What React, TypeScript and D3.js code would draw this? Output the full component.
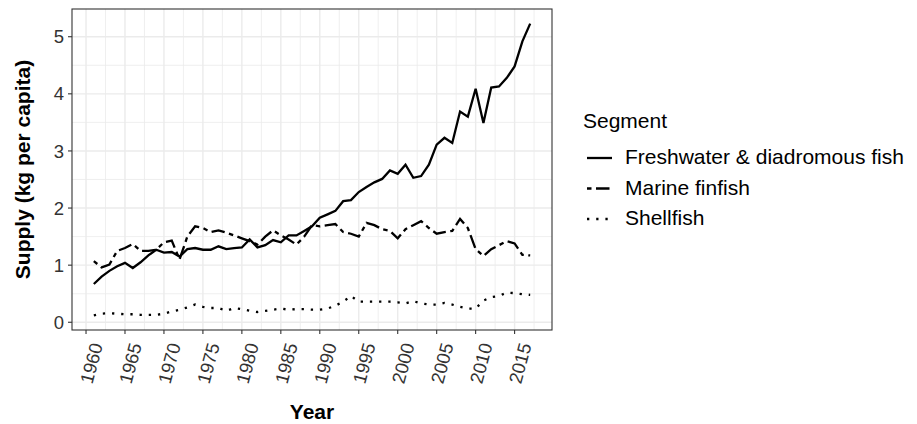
import React from "react";
import * as d3 from "d3";

// Year on the x axis, 1961 to 2017
const years = [
  1961, 1962, 1963, 1964, 1965, 1966, 1967, 1968, 1969, 1970,
  1971, 1972, 1973, 1974, 1975, 1976, 1977, 1978, 1979, 1980,
  1981, 1982, 1983, 1984, 1985, 1986, 1987, 1988, 1989, 1990,
  1991, 1992, 1993, 1994, 1995, 1996, 1997, 1998, 1999, 2000,
  2001, 2002, 2003, 2004, 2005, 2006, 2007, 2008, 2009, 2010,
  2011, 2012, 2013, 2014, 2015, 2016, 2017,
];

// Supply, kg per capita
const freshwater = [
  0.67, 0.8, 0.9, 0.98, 1.04, 0.95, 1.05, 1.17, 1.27, 1.22,
  1.23, 1.15, 1.28, 1.3, 1.27, 1.27, 1.33, 1.28, 1.3, 1.31,
  1.45, 1.31, 1.35, 1.44, 1.4, 1.52, 1.52, 1.6, 1.68, 1.83,
  1.89, 1.95, 2.12, 2.14, 2.28, 2.37, 2.45, 2.51, 2.66, 2.6,
  2.76, 2.53, 2.56, 2.76, 3.11, 3.23, 3.14, 3.69, 3.6, 4.09,
  3.49, 4.11, 4.13, 4.28, 4.48, 4.92, 5.23,
];
const marine = [
  1.07, 0.96, 1.01, 1.25, 1.3, 1.37, 1.25, 1.25, 1.27, 1.4,
  1.43, 1.1, 1.5, 1.68, 1.65, 1.58, 1.61, 1.57, 1.52, 1.47,
  1.42, 1.36, 1.5, 1.61, 1.52, 1.45, 1.36, 1.5, 1.7, 1.68,
  1.7, 1.72, 1.58, 1.55, 1.5, 1.74, 1.7, 1.63, 1.6, 1.47,
  1.63, 1.7, 1.77, 1.65, 1.55, 1.58, 1.6, 1.81, 1.65, 1.28,
  1.16, 1.28, 1.35, 1.42, 1.38, 1.18, 1.17,
];
const shellfish = [
  0.12, 0.15, 0.16, 0.15, 0.14, 0.14, 0.13, 0.13, 0.13, 0.15,
  0.19, 0.22, 0.26, 0.31, 0.27, 0.25, 0.25, 0.2, 0.25, 0.23,
  0.2, 0.18, 0.2, 0.22, 0.24, 0.22, 0.23, 0.23, 0.22, 0.22,
  0.24, 0.29, 0.36, 0.46, 0.36, 0.36, 0.36, 0.36, 0.36, 0.35,
  0.33, 0.37, 0.33, 0.31, 0.31, 0.34, 0.31, 0.27, 0.24, 0.24,
  0.38, 0.44, 0.46, 0.52, 0.51, 0.49, 0.48,
];

const segments = ["Freshwater & diadromous fish", "Marine finfish", "Shellfish"];
const seriesValues = [freshwater, marine, shellfish];
const dashes = ["none", "4.5,4.5,13.5,4.5", "2.3,6.9"];

const font = "'Liberation Sans', Arial, sans-serif";

export default function App() {
  const width = 917;
  const height = 424;
  const panel = { left: 72, right: 552, top: 9, bottom: 330 };

  // ggplot-style 5% expansion of the data range
  const xExt = d3.extent(years) as [number, number];
  const xPad = (xExt[1] - xExt[0]) * 0.05;
  const x = d3
    .scaleLinear()
    .domain([xExt[0] - xPad, xExt[1] + xPad])
    .range([panel.left, panel.right]);

  const all = seriesValues.flat();
  const yExt = d3.extent(all) as [number, number];
  const yPad = (yExt[1] - yExt[0]) * 0.05;
  const y = d3
    .scaleLinear()
    .domain([yExt[0] - yPad, yExt[1] + yPad])
    .range([panel.bottom, panel.top]);

  const xTicks = x.ticks(12);
  const yTicks = y.ticks(5);
  const xStep = xTicks[1] - xTicks[0];
  const yStep = yTicks[1] - yTicks[0];
  const [x0, x1] = x.domain();
  const [y0, y1] = y.domain();
  const xMinor = d3
    .range(xTicks[0] - xStep / 2, x1, xStep)
    .filter((v) => v > x0 && v < x1);
  const yMinor = d3
    .range(yTicks[0] - yStep / 2, y1, yStep)
    .filter((v) => v > y0 && v < y1);

  const line = d3
    .line<number>()
    .x((_, i) => x(years[i]))
    .y((d) => y(d));

  return (
    <svg
      width={width}
      height={height}
      style={{ position: "absolute", left: 0, top: 0, background: "#fff" }}
      fontFamily={font}
    >
      <rect width={width} height={height} fill="#fff" />

      {/* grid */}
      <g>
        {xMinor.map((v) => (
          <line key={"xm" + v} x1={x(v)} x2={x(v)} y1={panel.top} y2={panel.bottom} stroke="#ebebeb" strokeWidth={0.8} />
        ))}
        {yMinor.map((v) => (
          <line key={"ym" + v} x1={panel.left} x2={panel.right} y1={y(v)} y2={y(v)} stroke="#ebebeb" strokeWidth={0.8} />
        ))}
        {xTicks.map((v) => (
          <line key={"xg" + v} x1={x(v)} x2={x(v)} y1={panel.top} y2={panel.bottom} stroke="#ebebeb" strokeWidth={1.4} />
        ))}
        {yTicks.map((v) => (
          <line key={"yg" + v} x1={panel.left} x2={panel.right} y1={y(v)} y2={y(v)} stroke="#ebebeb" strokeWidth={1.4} />
        ))}
      </g>

      {/* series */}
      <g fill="none" stroke="#000" strokeWidth={2.3}>
        {seriesValues.map((vals, i) => (
          <path key={segments[i]} d={line(vals) || ""} strokeDasharray={dashes[i]} />
        ))}
      </g>

      {/* panel border */}
      <rect
        x={panel.left}
        y={panel.top}
        width={panel.right - panel.left}
        height={panel.bottom - panel.top}
        fill="none"
        stroke="#333"
        strokeWidth={1.1}
      />

      {/* y axis */}
      <g>
        {yTicks.map((v) => (
          <g key={"yt" + v}>
            <line x1={panel.left - 4} x2={panel.left} y1={y(v)} y2={y(v)} stroke="#333" strokeWidth={1.1} />
            <text x={panel.left - 8} y={y(v)} dy="0.36em" textAnchor="end" fontSize={18.5} fill="#333">
              {v}
            </text>
          </g>
        ))}
      </g>

      {/* x axis */}
      <g>
        {xTicks.map((v) => (
          <g key={"xt" + v}>
            <line x1={x(v)} x2={x(v)} y1={panel.bottom} y2={panel.bottom + 4} stroke="#333" strokeWidth={1.1} />
            <text
              transform={`translate(${x(v) + 17},345) rotate(-75)`}
              textAnchor="end"
              fontSize={18.5}
              fill="#333"
            >
              {v}
            </text>
          </g>
        ))}
      </g>

      {/* axis titles */}
      <text x={(panel.left + panel.right) / 2} y={419} textAnchor="middle" fontSize={21} fontWeight="bold">
        Year
      </text>
      <text
        transform={`translate(29.5,${(panel.top + panel.bottom) / 2}) rotate(-90)`}
        textAnchor="middle"
        fontSize={21}
        fontWeight="bold"
      >
        Supply (kg per capita)
      </text>

      {/* legend */}
      <g>
        <text x={583} y={128} fontSize={21}>
          Segment
        </text>
        {segments.map((s, i) => {
          const by = 164 + i * 30.5;
          return (
            <g key={"lg" + s}>
              <line
                x1={587}
                x2={612}
                y1={by - 6}
                y2={by - 6}
                stroke="#000"
                strokeWidth={2.3}
                strokeDasharray={dashes[i]}
              />
              <text x={625} y={by} fontSize={21}>
                {s}
              </text>
            </g>
          );
        })}
      </g>
    </svg>
  );
}
